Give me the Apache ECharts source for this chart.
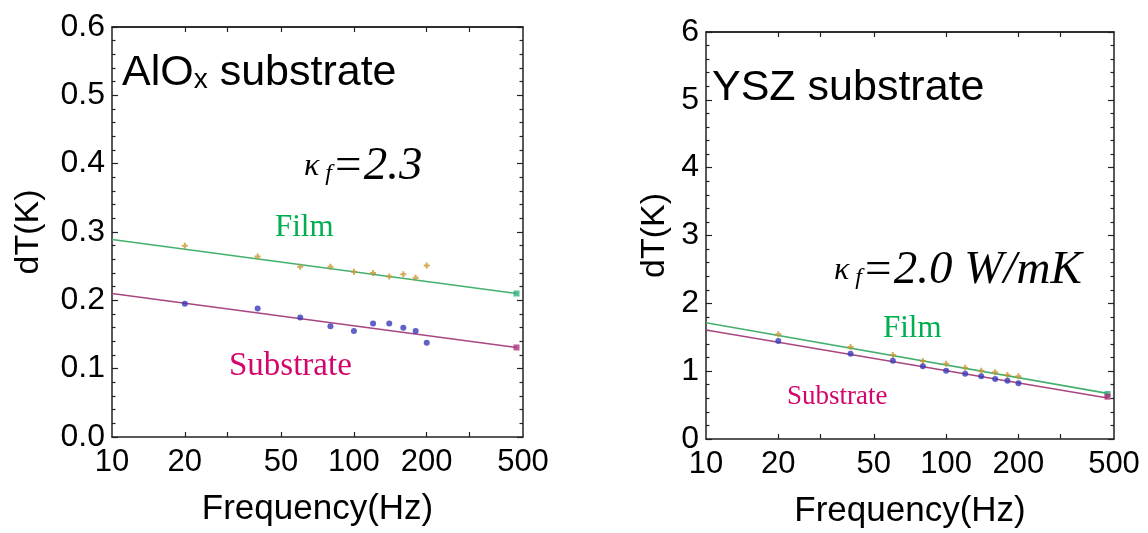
<!DOCTYPE html>
<html>
<head>
<meta charset="utf-8">
<script src="https://cdn.jsdelivr.net/npm/echarts@6/dist/echarts.min.js"></script>
<style>
  html, body { margin: 0; padding: 0; background: #fff; }
  #chart { width: 1148px; height: 533px; }
</style>
</head>
<body>
<div id="chart"></div>
<script>
// measured frequencies (Hz)
const freq = [20, 40, 60, 80, 100, 120, 140, 160, 180, 200, 470];
// AlOx substrate, dT(K)
const alFilm = [0.280, 0.264, 0.249, 0.249, 0.242, 0.240, 0.235, 0.238, 0.233, 0.251, 0.210];
const alSub  = [0.195, 0.188, 0.175, 0.162, 0.155, 0.166, 0.166, 0.160, 0.155, 0.138, 0.131];
// YSZ substrate, dT(K)
const yszFilm = [1.543, 1.356, 1.238, 1.150, 1.110, 1.051, 1.007, 0.983, 0.944, 0.924, 0.663];
const yszSub  = [1.445, 1.258, 1.155, 1.071, 1.007, 0.963, 0.924, 0.885, 0.860, 0.821, 0.624];
// fitted lines (end points, straight in log f)
const fitFreq = [10, 470];
const alFilmFit = [0.289, 0.210];
const alSubFit = [0.210, 0.131];
const yszFilmFit = [1.715, 0.673];
const yszSubFit = [1.607, 0.604];
// tick labels / tick positions
const xLabels = [10, 20, 50, 100, 200, 500];
const xTicks = [20, 30, 50, 100, 200, 300];
const yMax = [0.6, 6];

const frame = '#222';
const filmLine = '#45b06e';
const subLine = '#a8477f';
const sansFont = '"Liberation Sans", Arial, sans-serif';
const serifFont = '"Liberation Serif", "Times New Roman", serif';

const chart = echarts.init(document.getElementById('chart'), null, { renderer: 'canvas' });

const pair = (xs, ys) => xs.map((x, i) => [x, ys[i]]);

function xAxes(g) {
  const mk = (pos, extra) => Object.assign({
    type: 'log', min: 10, max: 500, gridIndex: g, position: pos, z: 5,
    splitLine: { show: false },
    axisLine: { show: true, onZero: false, lineStyle: { color: frame, width: 1.5 } },
    axisTick: { inside: true, length: 5, customValues: xTicks, lineStyle: { color: frame, width: 1.2 } },
    axisLabel: { show: false }
  }, extra || {});
  return [
    mk('bottom', {
      axisLabel: { customValues: xLabels, color: '#000', fontSize: 31, fontFamily: sansFont, margin: 10, formatter: v => String(Math.round(v)) },
      name: 'Frequency(Hz)', nameLocation: 'middle', nameGap: 55,
      nameTextStyle: { color: '#000', fontSize: 35, fontFamily: sansFont }
    }),
    mk('top')
  ];
}

function yAxes(g, digits, interval, gap) {
  const mk = (pos, extra) => Object.assign({
    type: 'value', min: 0, max: yMax[g], interval: interval, gridIndex: g, position: pos,
    splitLine: { show: false },
    axisLine: { show: true, onZero: false, lineStyle: { color: frame, width: 1.5 } },
    axisTick: { show: true, inside: true, length: 6, lineStyle: { color: frame, width: 1.2 } },
    minorTick: { show: true, splitNumber: 5, length: 3.5, lineStyle: { color: frame, width: 1.2 } },
    axisLabel: { show: false }
  }, extra || {});
  return [
    mk('left', {
      axisLabel: { color: '#000', fontSize: 32, fontFamily: sansFont, margin: 7, formatter: v => v.toFixed(digits) },
      name: 'dT(K)', nameLocation: 'middle', nameGap: gap,
      nameTextStyle: { color: '#000', fontSize: 34, fontFamily: sansFont }
    }),
    mk('right')
  ];
}

const plusPath = 'path://M2,0H4V2H6V4H4V6H2V4H0V2H2Z';

// last measured point is drawn in the fit-line colour, as in the source figure
function marks(values, color, lastColor) {
  return pair(freq, values).map((p, i) => i === values.length - 1
    ? { value: p, symbol: 'rect', itemStyle: { color: lastColor } }
    : { value: p, itemStyle: { color: color } });
}

function seriesFor(g, film, sub, filmFit, subFit) {
  const xi = g * 2, yi = g * 2;
  return [
    { type: 'line', xAxisIndex: xi, yAxisIndex: yi, data: pair(fitFreq, filmFit), symbol: 'none',
      lineStyle: { color: filmLine, width: 1.6 }, silent: true, z: 2,
      // top edge of the frame
      markLine: { silent: true, symbol: 'none', label: { show: false },
        lineStyle: { color: frame, width: 1.5, type: 'solid' }, data: [{ yAxis: yMax[g] }] } },
    { type: 'line', xAxisIndex: xi, yAxisIndex: yi, data: pair(fitFreq, subFit), symbol: 'none',
      lineStyle: { color: subLine, width: 1.6 }, silent: true, z: 2 },
    { type: 'scatter', xAxisIndex: xi, yAxisIndex: yi, data: marks(film, '#c8952e', '#2fae7a'),
      symbol: plusPath, symbolSize: 6, z: 3 },
    { type: 'scatter', xAxisIndex: xi, yAxisIndex: yi, data: marks(sub, '#3a3ab8', '#b0307a'),
      symbol: 'circle', symbolSize: 6, z: 3 }
  ];
}

const kappaRich = {
  k: { fontSize: 32, fontStyle: 'italic', fontFamily: serifFont, fill: '#000' },
  f: { fontSize: 24, fontStyle: 'italic', fontFamily: serifFont, fill: '#000', padding: [14, 0, 0, 0] },
  v: { fontSize: 47, fontStyle: 'italic', fontFamily: serifFont, fill: '#000' }
};

const option = {
  animation: false,
  grid: [
    { left: 112, top: 27, width: 411, height: 410, outerBoundsMode: 'none' },
    { left: 706, top: 32, width: 408, height: 407, outerBoundsMode: 'none' }
  ],
  xAxis: xAxes(0).concat(xAxes(1)),
  yAxis: yAxes(0, 1, 0.1, 66).concat(yAxes(1, 0, 1, 34)),
  series: seriesFor(0, alFilm, alSub, alFilmFit, alSubFit)
    .concat(seriesFor(1, yszFilm, yszSub, yszFilmFit, yszSubFit)),
  graphic: [
    { type: 'text', left: 122, top: 52, style: {
        text: '{a|AlO}{s|x}{a| substrate}',
        rich: {
          a: { fontSize: 43, fontFamily: sansFont, fill: '#000' },
          s: { fontSize: 28, fontFamily: sansFont, fill: '#000', padding: [14, 0, 0, 0] }
        } } },
    { type: 'text', left: 712, top: 67, style: {
        text: 'YSZ substrate', fontSize: 43, fontFamily: sansFont, fill: '#000' } },
    { type: 'text', left: 304, top: 143, style: { text: '{k|κ}{f| f}{v|=2.3}', rich: kappaRich } },
    { type: 'text', left: 834, top: 247, style: { text: '{k|κ}{f| f}{v|=2.0 W/mK}', rich: kappaRich } },
    { type: 'text', left: 275, top: 212, style: {
        text: 'Film', fontSize: 31, fontFamily: serifFont, fill: '#00ad4f' } },
    { type: 'text', left: 229, top: 350, style: {
        text: 'Substrate', fontSize: 33, fontFamily: serifFont, fill: '#d2066c' } },
    { type: 'text', left: 883, top: 313, style: {
        text: 'Film', fontSize: 31, fontFamily: serifFont, fill: '#00ad4f' } },
    { type: 'text', left: 787, top: 383, style: {
        text: 'Substrate', fontSize: 27, fontFamily: serifFont, fill: '#d2066c' } }
  ]
};

chart.setOption(option);
window.addEventListener('resize', () => chart.resize());
</script>
</body>
</html>
